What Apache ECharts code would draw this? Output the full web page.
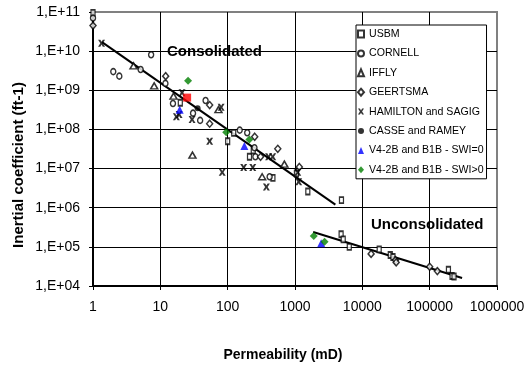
<!DOCTYPE html>
<html><head><meta charset="utf-8">
<script src="https://cdn.jsdelivr.net/npm/echarts@6/dist/echarts.min.js"></script>
<style>html,body{margin:0;padding:0;background:#fff}#c{width:530px;height:373px}</style>
</head><body><div id="c"></div>
<script>
const seriesNames = ['USBM','CORNELL','IFFLY','GEERTSMA','HAMILTON and SAGIG','CASSE and RAMEY','V4-2B and B1B - SWI=0','V4-2B and B1B - SWI>0'];
const xTicks = [1,10,100,1000,10000,100000,1000000];
const usbm = [[1,9.5e10],[19.8,4.8e8],[100,5.0e7],[123,8.2e7],[211,2.0e7],[240,2.9e7],[470,5.8e6],[1050,7.5e6],[1550,2.6e6],[4900,1.56e6],[4840,2.1e5],[5200,1.55e5],[6400,1.0e5],[17800,8.6e4],[26000,6.2e4],[28500,5.5e4],[190000,2.6e4],[215000,1.8e4],[230000,1.75e4]];
const cornell = [[1,7e10],[7.3,8.1e9],[2.0,3.0e9],[2.46,2.3e9],[5.1,3.4e9],[11.9,1.5e9],[15.4,4.6e8],[30.6,2.6e8],[39,1.7e8],[47,5.5e8],[151,9.6e7],[195,8.2e7],[250,3.4e7],[258,2.0e7],[420,6.2e6]];
const iffly = [[4.0,4.2e9],[8.1,1.3e9],[15.7,7.1e8],[73,3.2e8],[30,2.2e7],[695,1.3e7],[325,6.2e6]];
const geertsma = [[1,4.5e10],[12,2.3e9],[54,4.2e8],[54,1.4e8],[252,6.5e7],[555,3.2e7],[1160,1.1e7],[308,2.0e7],[13500,6.6e4],[31000,4.6e4],[31800,4.0e4],[100000,3.1e4],[130000,2.4e4]];
const hamilton = [[1.34,1.6e10],[21,8.7e8],[17.3,2.1e8],[19,2.4e8],[29.6,1.8e8],[80,3.7e8],[54,5.0e7],[405,2.0e7],[467,2.0e7],[173,1.07e7],[236,1.07e7],[83,8.0e6],[376,3.4e6],[1135,4.6e6],[1100,8.0e6]];
const casse = [[35.8,3.5e8]];
const casseRed = [[25,6.5e8]];
const swi0 = [[19.4,3.2e8],[177,3.8e7],[2450,1.23e5]];
const swiPos = [[25.8,1.74e9],[95,8.5e7],[210,5.5e7],[1900,1.9e5],[2750,1.35e5]];
const trendConsolidated = [[1.36,1.7e10],[3980,1.2e6]];
const trendUnconsolidated = [[1860,2.4e5],[303000,1.6e4]];

const FONT = "'Liberation Sans', Arial, sans-serif";
const open = {color:'#fff', borderColor:'#000', borderWidth:1.5};
const crossPath = 'path://M0,0L3.2,0L5,3L6.8,0L10,0L6.8,5L10,10L6.8,10L5,7L3.2,10L0,10L3.2,5Z';

const chart = echarts.init(document.getElementById('c'), null, {renderer:'canvas'});
chart.setOption({
  animation:false,
  grid:{left:93, right:33, top:12, bottom:87, show:true, borderColor:'#808080', borderWidth:2, backgroundColor:'#fff'},
  legend:{
    data:seriesNames, orient:'vertical', left:356, top:25,
    backgroundColor:'#fff', borderColor:'#000', borderWidth:1,
    padding:[3,3,3,1], itemWidth:6, itemHeight:7, itemGap:7.4,
    textStyle:{fontFamily:FONT, fontSize:10.6, color:'#000', lineHeight:12}
  },
  xAxis:{type:'log', logBase:10, min:1, max:1000000,
    axisLine:{show:true, lineStyle:{color:'#000', width:2}},
    axisTick:{show:true, length:4, lineStyle:{color:'#000', width:1}},
    axisLabel:{fontFamily:FONT, fontSize:14, color:'#000', margin:14, formatter:v=>String(Math.round(v))},
    splitLine:{show:true, showMinLine:false, showMaxLine:false, lineStyle:{color:'#000', width:1}}
  },
  yAxis:{type:'log', logBase:10, min:1e4, max:1e11,
    axisLine:{show:true, lineStyle:{color:'#000', width:2}},
    axisTick:{show:true, length:4, lineStyle:{color:'#000', width:1}},
    axisLabel:{fontFamily:FONT, fontSize:14, color:'#000', margin:13,
      formatter:v=>'1,E+'+String(Math.round(Math.log10(v))).padStart(2,'0')},
    splitLine:{show:true, showMinLine:false, showMaxLine:false, lineStyle:{color:'#000', width:1}}
  },
  graphic:[
    {type:'text', x:167, y:52, z:5, style:{text:'Consolidated', font:'bold 15px '+FONT, fill:'#000', textAlign:'left', textVerticalAlign:'middle'}},
    {type:'text', x:371, y:225, z:5, style:{text:'Unconsolidated', font:'bold 15px '+FONT, fill:'#000', textAlign:'left', textVerticalAlign:'middle'}},
    {type:'text', x:18.5, y:165, rotation:Math.PI/2, style:{text:'Inertial coefficient (ft-1)', font:'bold 15px '+FONT, fill:'#000', textAlign:'center', textVerticalAlign:'middle'}},
    {type:'text', x:283, y:355, style:{text:'Permeability (mD)', font:'bold 14px '+FONT, fill:'#000', textAlign:'center', textVerticalAlign:'middle'}}
  ],
  series:[
    {type:'line', name:'trend1', data:trendConsolidated, symbol:'none', lineStyle:{color:'#000', width:2}, z:1},
    {type:'line', name:'trend2', data:trendUnconsolidated, symbol:'none', lineStyle:{color:'#000', width:2}, z:1},
    {type:'scatter', name:seriesNames[0], data:usbm, symbol:'rect', symbolSize:[4,6], itemStyle:open, z:3},
    {type:'scatter', name:seriesNames[1], data:cornell, symbol:'circle', symbolSize:[5,6], itemStyle:open, z:3},
    {type:'scatter', name:seriesNames[2], data:iffly, symbol:'triangle', symbolSize:[7,6], itemStyle:open, z:3},
    {type:'scatter', name:seriesNames[3], data:geertsma, symbol:'diamond', symbolSize:[6,7], itemStyle:open, z:3},
    {type:'scatter', name:seriesNames[4], data:hamilton, symbol:crossPath, symbolSize:7, itemStyle:{color:'#000'}, z:3},
    {type:'scatter', name:seriesNames[5], data:casse.concat(casseRed.map(p=>({value:p, symbol:'rect', symbolSize:8, itemStyle:{color:'#ff0000'}}))), symbol:'circle', symbolSize:6, itemStyle:{color:'#000'}, z:3},
    {type:'scatter', name:seriesNames[6], data:swi0, symbol:'triangle', symbolSize:[8,8], itemStyle:{color:'#0000ff'}, z:4},
    {type:'scatter', name:seriesNames[7], data:swiPos, symbol:'diamond', symbolSize:[8,8], itemStyle:{color:'#008000'}, z:4}
  ]
});
</script></body></html>
